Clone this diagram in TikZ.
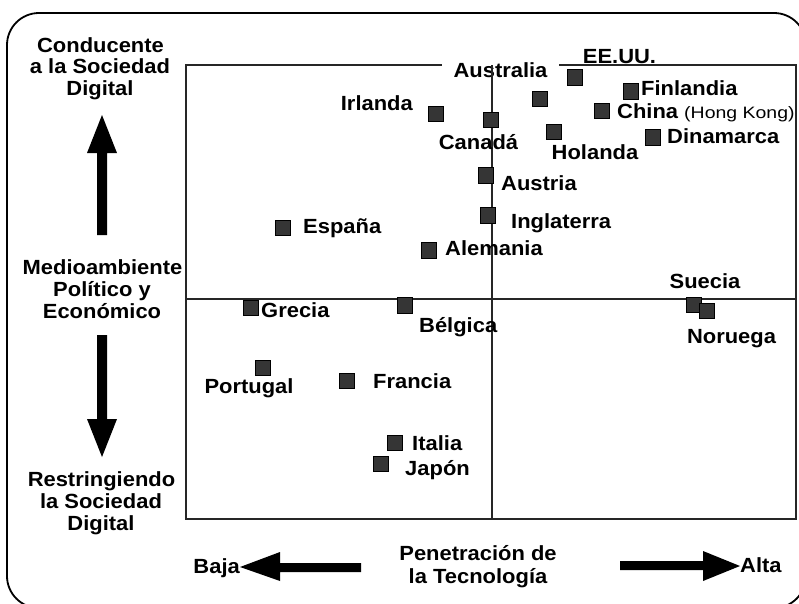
\documentclass[tikz,border=0pt]{standalone}
\usepackage{fontspec}
\setmainfont{Liberation Sans}[FakeStretch=1.07]
\newfontfamily\hkfont{Liberation Sans}[FakeStretch=1.18]
\definecolor{mark}{HTML}{353535}
\tikzset{
  lbl/.style={font=\fontsize{20.5}{21.5}\selectfont\bfseries, inner sep=0pt},
  marker/.style={draw=black, fill=mark, line width=0.8pt, minimum width=15pt, minimum height=15.5pt, inner sep=0pt},
  frameline/.style={line width=1.4pt, draw=black!85},
  bigarrow/.style={fill=black}
}
\begin{document}
\begin{tikzpicture}[x=1pt,y=-1pt]
\useasboundingbox (0,0) rectangle (799,603);
% outer frame
\draw[line width=1.8pt, rounded corners=32pt] (7,13) rectangle (806,608);
% inner frame
\draw[frameline] (186,65) rectangle (796,519);
% Australia label covers the top line
\node[lbl, fill=white, inner xsep=12pt, inner ysep=2pt, anchor=base] (australia) at (500.5,77) {Australia};
% cross lines
\draw[frameline] (492,65) -- (492,519);
\draw[frameline] (186,299) -- (796,299);
% markers
\node[marker] (mIrl) at (435.5,114) {};
\node[marker] (mCan) at (491,120) {};
\node[marker] (mAus) at (539.5,99) {};
\node[marker] (mUSA) at (575,77.5) {};
\node[marker] (mFin) at (631,91.5) {};
\node[marker] (mChi) at (601.5,111) {};
\node[marker] (mHol) at (553.5,132) {};
\node[marker] (mDin) at (653,137.5) {};
\node[marker] (mAut) at (485.5,175.5) {};
\node[marker] (mIng) at (487.5,215.5) {};
\node[marker] (mAle) at (429,250.5) {};
\node[marker] (mEsp) at (283,228) {};
\node[marker] (mGre) at (250.5,308) {};
\node[marker] (mBel) at (404.5,305.5) {};
\node[marker] (mSue) at (694,305) {};
\node[marker] (mNor) at (707,311) {};
\node[marker] (mPor) at (263,368) {};
\node[marker] (mFra) at (347,381) {};
\node[marker] (mIta) at (395,443) {};
\node[marker] (mJap) at (381,464) {};
% country labels
\node[lbl, anchor=base east] (lIrl) at (413,110) {Irlanda};
\node[lbl, anchor=base] (lUSA) at (619.5,63) {EE.UU.};
\node[lbl, anchor=base west] (lFin) at (641,95) {Finlandia};
\node[lbl, anchor=base west] (lChi) at (617,118) {China {\hkfont\fontsize{16.5}{18}\selectfont\mdseries (Hong Kong)}};
\node[lbl, anchor=base west] (lDin) at (667,143) {Dinamarca};
\node[lbl, anchor=base] (lHol) at (595,159) {Holanda};
\node[lbl, anchor=base] (lCan) at (478.5,149) {Canadá};
\node[lbl, anchor=base west] (lAut) at (501,190) {Austria};
\node[lbl, anchor=base west] (lIng) at (511,228) {Inglaterra};
\node[lbl, anchor=base west] (lAle) at (445,255) {Alemania};
\node[lbl, anchor=base] (lSue) at (705,288) {Suecia};
\node[lbl, anchor=base] (lNor) at (731.5,343) {Noruega};
\node[lbl, anchor=base west] (lGre) at (261,317) {Grecia};
\node[lbl, anchor=base west] (lBel) at (419,332) {Bélgica};
\node[lbl, anchor=base west] (lEsp) at (303,233) {España};
\node[lbl, anchor=base] (lPor) at (249,393) {Portugal};
\node[lbl, anchor=base west] (lFra) at (373,388) {Francia};
\node[lbl, anchor=base west] (lIta) at (412,450) {Italia};
\node[lbl, anchor=base west] (lJap) at (405,475) {Japón};
% left axis labels
\node[lbl, anchor=base] (c1) at (100.5,52.5) {Conducente};
\node[lbl, anchor=base] (c2) at (100,73.5) {a la Sociedad};
\node[lbl, anchor=base] (c3) at (100,95) {Digital};
\node[lbl, anchor=base] (m1) at (102.5,274) {Medioambiente};
\node[lbl, anchor=base] (m2) at (102,296) {Político y};
\node[lbl, anchor=base] (m3) at (102,318) {Económico};
\node[lbl, anchor=base] (r1) at (101.5,486) {Restringiendo};
\node[lbl, anchor=base] (r2) at (101,508) {la Sociedad};
\node[lbl, anchor=base] (r3) at (101,530) {Digital};
% bottom axis labels
\node[lbl, anchor=base east] (baja) at (240,573) {Baja};
\node[lbl, anchor=base] (p1) at (478,560) {Penetración de};
\node[lbl, anchor=base] (p2) at (478,583) {la Tecnología};
\node[lbl, anchor=base west] (alta) at (740,572) {Alta};
% big arrows
\fill[bigarrow] (97,235) -- (97,153) -- (87,153) -- (102,115) -- (117,153) -- (107,153) -- (107,235) -- cycle;
\fill[bigarrow] (97,335) -- (97,419) -- (87,419) -- (102,457) -- (117,419) -- (107,419) -- (107,335) -- cycle;
\fill[bigarrow] (361,563) -- (280,563) -- (280,552) -- (240,567) -- (280,581) -- (280,572) -- (361,572) -- cycle;
\fill[bigarrow] (620,561) -- (703,561) -- (703,551) -- (740,566) -- (703,581) -- (703,570) -- (620,570) -- cycle;
\end{tikzpicture}
\end{document}
